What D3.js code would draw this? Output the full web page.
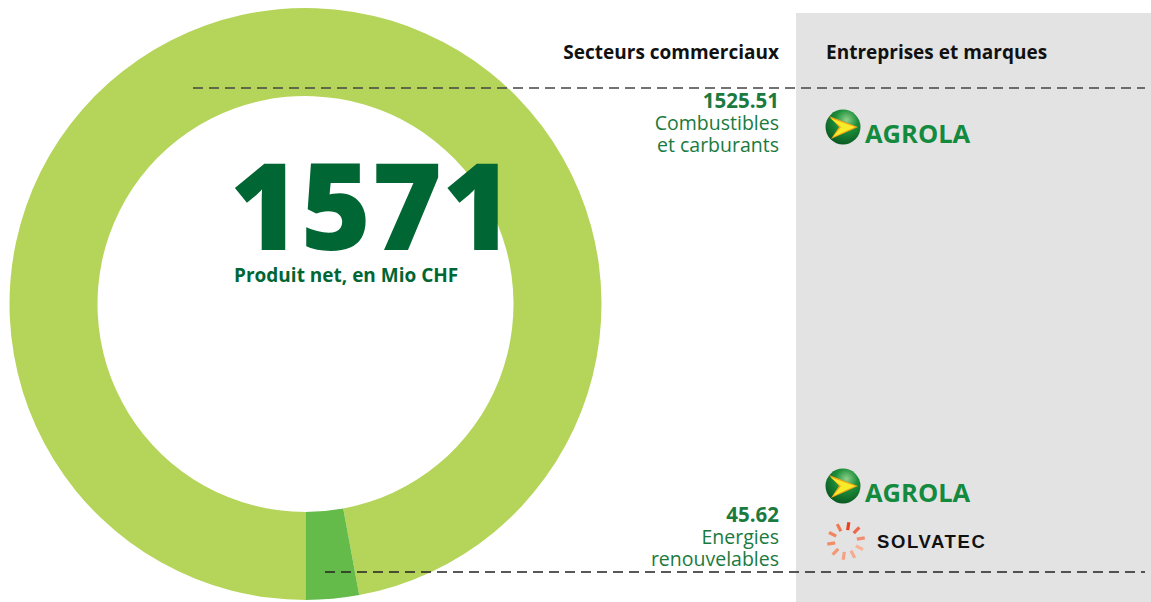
<!DOCTYPE html>
<html>
<head>
<meta charset="utf-8">
<script src="https://cdn.jsdelivr.net/npm/d3@7"></script>
<style>
  body { margin: 0; background: #fff; }
  svg { display: block; font-family: "Open Sans", sans-serif; }
</style>
</head>
<body>
<svg></svg>
<script>
const width = 1151;
const height = 602;

// Données
const sectors = ["Combustibles et carburants", "Energies renouvelables"];
const values = [1525.51, 45.62];
const total = 1571;
const sectorColors = ["#b5d55a", "#64bb4a"];
const labelLines = [["Combustibles", "et carburants"], ["Energies", "renouvelables"]];
const brands = [["AGROLA"], ["AGROLA", "SOLVATEC"]];

const svg = d3.select("svg")
  .attr("width", width)
  .attr("height", height);

// Panneau gris
svg.append("rect")
  .attr("x", 796).attr("y", 13)
  .attr("width", width - 796).attr("height", height - 13)
  .attr("fill", "#e3e3e3");

// Anneau
const cx = 305.5, cy = 304;
const pie = d3.pie().sort(null).startAngle(Math.PI).endAngle(3 * Math.PI);
const arc = d3.arc().innerRadius(208).outerRadius(296);

svg.append("g")
  .attr("transform", `translate(${cx},${cy})`)
  .selectAll("path")
  .data(pie(values))
  .join("path")
  .attr("d", arc)
  .attr("fill", (d, i) => sectorColors[i]);

// Titre central
svg.append("text")
  .attr("x", 230).attr("y", 250)
  .attr("font-size", 120)
  .attr("font-weight", 800)
  .attr("fill", "#006633")
  .attr("letter-spacing", 0.5)
  .text(total);

svg.append("text")
  .attr("x", 234).attr("y", 282)
  .attr("font-size", 19)
  .attr("font-weight", 700)
  .attr("fill", "#006633")
  .text("Produit net, en Mio CHF");

// En-têtes
svg.append("text")
  .attr("x", 779).attr("y", 59)
  .attr("text-anchor", "end")
  .attr("font-size", 19).attr("font-weight", 700)
  .attr("fill", "#111")
  .text("Secteurs commerciaux");

svg.append("text")
  .attr("x", 826).attr("y", 59)
  .attr("font-size", 19).attr("font-weight", 700)
  .attr("fill", "#111")
  .text("Entreprises et marques");

// Lignes pointillées
const dashLines = [
  { x1: 193, x2: 1145, y: 88, color: "#444" },
  { x1: 325, x2: 1145, y: 572, color: "#222" }
];
svg.selectAll("line.dash")
  .data(dashLines)
  .join("line")
  .attr("class", "dash")
  .attr("x1", d => d.x1).attr("x2", d => d.x2)
  .attr("y1", d => d.y).attr("y2", d => d.y)
  .attr("stroke", d => d.color)
  .attr("stroke-width", 1.5)
  .attr("stroke-dasharray", "10,6");

// Libellés des secteurs
const labelTop = [108, 522];
const labels = svg.append("g")
  .selectAll("g")
  .data(sectors)
  .join("g")
  .attr("transform", (d, i) => `translate(779,${labelTop[i]})`);

labels.append("text")
  .attr("text-anchor", "end")
  .attr("font-size", 20.5).attr("font-weight", 700)
  .attr("fill", "#1a7a40")
  .text((d, i) => d3.format(".2f")(values[i]));

labels.each(function (d, i) {
  d3.select(this).selectAll("text.line")
    .data(labelLines[i])
    .join("text")
    .attr("class", "line")
    .attr("text-anchor", "end")
    .attr("y", (t, j) => 22 + j * 21.5)
    .attr("font-size", 19.5)
    .attr("fill", "#1a7a40")
    .text(t => t);
});

// Logos
const defs = svg.append("defs");
const grad = defs.append("radialGradient")
  .attr("id", "agrolaGrad")
  .attr("cx", "60%").attr("cy", "30%").attr("r", "70%");
grad.append("stop").attr("offset", "0%").attr("stop-color", "#8fd18a");
grad.append("stop").attr("offset", "45%").attr("stop-color", "#1c8f3a");
grad.append("stop").attr("offset", "100%").attr("stop-color", "#0b5a22");

function agrola(x, y) {
  const g = svg.append("g").attr("transform", `translate(${x},${y})`);
  g.append("circle").attr("r", 17.5).attr("fill", "url(#agrolaGrad)");
  g.append("path")
    .attr("d", "M-14,-11 L15,0 L-12,12 L-4,0 Z")
    .attr("fill", "#f2a41a");
  g.append("path")
    .attr("d", "M-13,-9 L12,0 L-10,10 L-2,0 Z")
    .attr("fill", "#f7ec2a");
  g.append("text")
    .attr("x", 22).attr("y", 16)
    .attr("font-family", "'Open Sans', sans-serif")
    .attr("font-size", 25.5).attr("font-weight", 700)
    .attr("fill", "#138a3e")
    .text("AGROLA");
}

function solvatec(x, y) {
  const g = svg.append("g").attr("transform", `translate(${x},${y})`);
  const rays = d3.range(10);
  const rayColor = d3.scaleLinear()
    .domain([0, 3, 9])
    .range(["#e8401f", "#f7b49a", "#f07a4f"]);
  g.selectAll("line")
    .data(rays)
    .join("line")
    .attr("x1", d => 11 * Math.cos(-Math.PI / 2 + d * Math.PI / 5 + 0.15))
    .attr("y1", d => 11 * Math.sin(-Math.PI / 2 + d * Math.PI / 5 + 0.15))
    .attr("x2", d => 19 * Math.cos(-Math.PI / 2 + d * Math.PI / 5 + 0.15))
    .attr("y2", d => 19 * Math.sin(-Math.PI / 2 + d * Math.PI / 5 + 0.15))
    .attr("stroke", d => rayColor(d))
    .attr("stroke-width", 3.2);
  g.append("text")
    .attr("x", 31).attr("y", 7)
    .attr("font-family", "'Liberation Sans', Arial, sans-serif")
    .attr("font-size", 18.5).attr("font-weight", 700)
    .attr("letter-spacing", 1.6)
    .attr("fill", "#111")
    .text("SOLVATEC");
}

agrola(843, 127);
agrola(843, 486);
solvatec(846, 541);
</script>
</body>
</html>
